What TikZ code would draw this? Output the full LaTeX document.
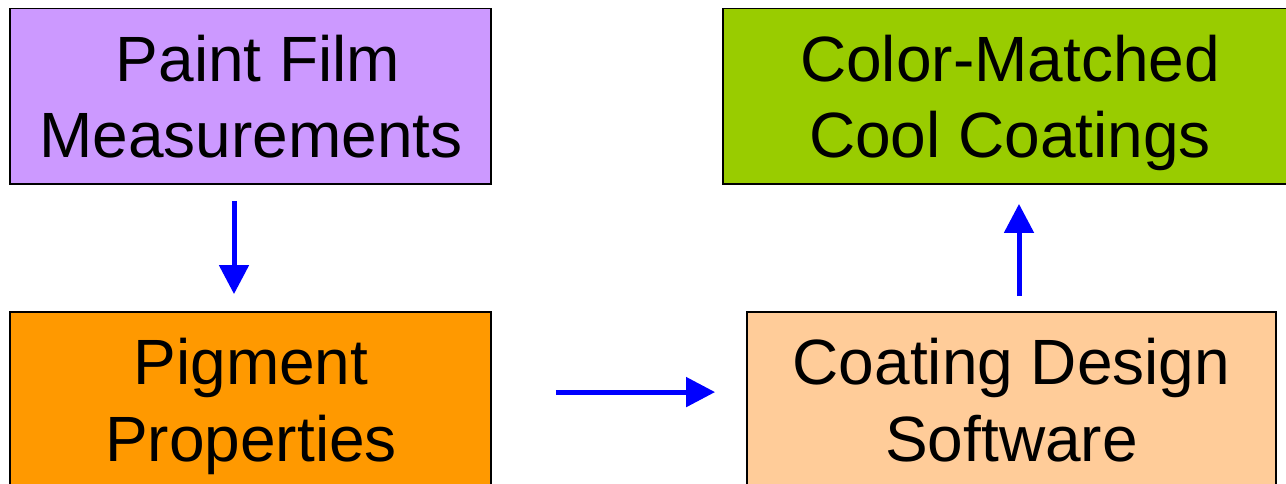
\documentclass[tikz,border=0pt]{standalone}
\usepackage{fontspec}
\setmainfont{Liberation Sans}
\usetikzlibrary{arrows.meta}
\definecolor{lav}{HTML}{CC99FF}
\definecolor{grn}{HTML}{99CC00}
\definecolor{org}{HTML}{FF9900}
\definecolor{pch}{HTML}{FFCC99}
\definecolor{arrblue}{HTML}{0000FF}
\tikzset{
  box/.style={draw=black, line width=1.8pt, rectangle, inner sep=0pt},
  txt/.style={anchor=base, inner sep=0pt, font=\fontsize{64}{76}\selectfont, text=black},
  arr/.style={draw=arrblue, line width=5pt, -{Triangle[length=29pt,width=29pt]}}
}
\begin{document}
\begin{tikzpicture}[x=1pt,y=1pt]
\useasboundingbox (0,0) rectangle (1286,484);
\clip (0,0) rectangle (1286,484);
\fill[white] (0,0) rectangle (1286,484);
% boxes
\node[box, fill=lav, minimum width=481pt, minimum height=175.5pt] (pfm) at (250.5,387.75) {};
\node[box, fill=grn, minimum width=574pt, minimum height=175.5pt] (cmc) at (1010,387.75) {};
\node[box, fill=org, minimum width=481pt, minimum height=176pt] (pp) at (250.5,84) {};
\node[box, fill=pch, minimum width=529pt, minimum height=176pt] (cds) at (1011.5,84) {};
% texts
\node[txt] (t1a) at (258,402) {Paint Film};
\node[txt] (t1b) at (251,326) {Measurements};
\node[txt] (t2a) at (1010,402) {Color-Matched};
\node[txt] (t2b) at (1010,326) {Cool Coatings};
\node[txt] (t3a) at (251,99) {Pigment};
\node[txt] (t3b) at (251,22) {Properties};
\node[txt] (t4a) at (1011.5,99) {Coating Design};
\node[txt] (t4b) at (1011.5,22) {Software};
% connectors
\draw[arr] ([shift={(-16.5pt,-16pt)}]pfm.south) -- ([shift={(-16.5pt,17pt)}]pp.north);
\draw[arr] ([shift={(64pt,-81pt)}]pp.north east) -- ([shift={(-31pt,-81pt)}]cds.north west);
\draw[arr] ([shift={(7.5pt,15pt)}]cds.north) -- ([shift={(9pt,-19pt)}]cmc.south);
\end{tikzpicture}
\end{document}
